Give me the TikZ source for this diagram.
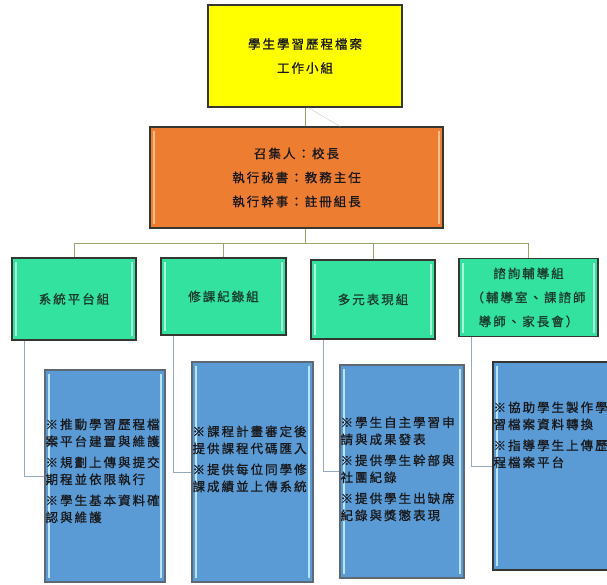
\documentclass[tikz,border=0pt]{standalone}
\usepackage{fontspec}
\setmainfont{Noto Sans CJK TC}[LetterSpace=16, FakeBold=1]
\usetikzlibrary{positioning}
\definecolor{teamyellow}{RGB}{255,255,0}
\definecolor{leadorange}{RGB}{237,125,49}
\definecolor{leadlight}{RGB}{250,190,140}
\definecolor{groupgreen}{RGB}{52,226,160}
\definecolor{grouplight}{RGB}{165,250,220}
\definecolor{grouptext}{RGB}{25,60,45}
\definecolor{taskblue}{RGB}{91,155,213}
\definecolor{tasklight}{RGB}{185,228,248}
\definecolor{taskedge}{RGB}{95,105,115}
\definecolor{edgedark}{RGB}{55,55,50}
\definecolor{inktext}{RGB}{25,25,28}
\definecolor{toplink}{RGB}{150,165,110}
\definecolor{lowlink}{RGB}{150,170,190}
\definecolor{faintlink}{RGB}{200,200,195}
\begin{document}
\begin{tikzpicture}[x=1pt, y=-1pt,
    box/.style={draw=edgedark, line width=1.2pt, inner sep=0pt, align=center,
      font=\fontsize{12.5}{24}\selectfont, text=inktext},
    bevel/.style={path picture={
      \draw[#1, line width=2pt] ([xshift=4pt,yshift=-4pt]path picture bounding box.north west)
        -- ([xshift=4pt,yshift=4pt]path picture bounding box.south west);
      \draw[#1, line width=2pt] ([xshift=-4pt,yshift=-4pt]path picture bounding box.north east)
        -- ([xshift=-4pt,yshift=4pt]path picture bounding box.south east);}},
    groupbox/.style={box, fill=groupgreen, bevel=grouplight, text=grouptext},
    taskbox/.style={box, draw=taskedge, fill=taskblue, bevel=tasklight},
    listtext/.style={align=left, inner sep=0pt, font=\fontsize{12.5}{17}\selectfont,
      text=inktext},
    topline/.style={draw=toplink, line width=1pt},
    lowline/.style={draw=lowlink, line width=1pt}]
  \useasboundingbox (0,0) rectangle (607,584);

  % top of the chart
  \node[box, fill=teamyellow, minimum width=194pt, minimum height=102pt] (team) at (305,56)
    {學生學習歷程檔案\\工作小組};
  \node[box, fill=leadorange, bevel=leadlight,
    minimum width=293pt, minimum height=101pt] (lead) at (296.5,177.5)
    {召集人：校長\\執行秘書：教務主任\\執行幹事：註冊組長};

  % groups
  \node[groupbox, minimum width=124pt, minimum height=82pt] (g1) at (74,299) {系統平台組};
  \node[groupbox, minimum width=125pt, minimum height=77pt] (g2) at (223.5,296.5) {修課紀錄組};
  \node[groupbox, minimum width=124pt, minimum height=79pt] (g3) at (373,299.5) {多元表現組};
  \node[groupbox, minimum width=139pt, minimum height=78pt] (g4) at (528.5,297.5)
    {諮詢輔導組\\（輔導室、課諮師\\導師、家長會）};

  % tasks
  \node[taskbox, minimum width=120pt, minimum height=212pt] (b1) at (105,476) {};
  \node[taskbox, minimum width=121pt, minimum height=220pt] (b2) at (252.5,472) {};
  \node[taskbox, minimum width=124pt, minimum height=213pt] (b3) at (402,471.5) {};
  \node[taskbox, draw=edgedark, minimum width=130pt, minimum height=208pt] (b4) at (558,466) {};

  \node[listtext, below right=49pt and 1pt of b1.north west] (t1)
    {※推動學習歷程檔\\案平台建置與維護\\[4pt]※規劃上傳與提交\\期程並依限執行\\[4pt]※學生基本資料確\\認與維護};
  \node[listtext, below right=64pt and 1pt of b2.north west] (t2)
    {※課程計畫審定後\\提供課程代碼匯入\\[4pt]※提供每位同學修\\課成績並上傳系統};
  \node[listtext, below right=52pt and 1pt of b3.north west] (t3)
    {※學生自主學習申\\請與成果發表\\[4pt]※提供學生幹部與\\社團紀錄\\[4pt]※提供學生出缺席\\紀錄與獎懲表現};
  \node[listtext, below right=40pt and 1pt of b4.north west] (t4)
    {※協助學生製作學\\習檔案資料轉換\\[4pt]※指導學生上傳歷\\程檔案平台};

  % connectors
  \coordinate (bus) at ([yshift=-15pt]lead.south -| team.south);
  \draw[topline] (team.south) -- (team.south |- lead.north);
  \draw[draw=faintlink] ([xshift=3pt]team.south) -- ([xshift=35pt]team.south |- lead.north);
  \draw[topline] (lead.south -| team.south) -- (bus);
  \draw[topline] (g1.north) |- (bus) -| (g4.north);
  \foreach \g in {g2,g3}
    \draw[topline] (\g.north) -- (\g.north |- bus);
  \foreach \i in {1,...,4}
    \draw[lowline] ([xshift=13pt]g\i.south west) |- (b\i.west);
\end{tikzpicture}
\end{document}
